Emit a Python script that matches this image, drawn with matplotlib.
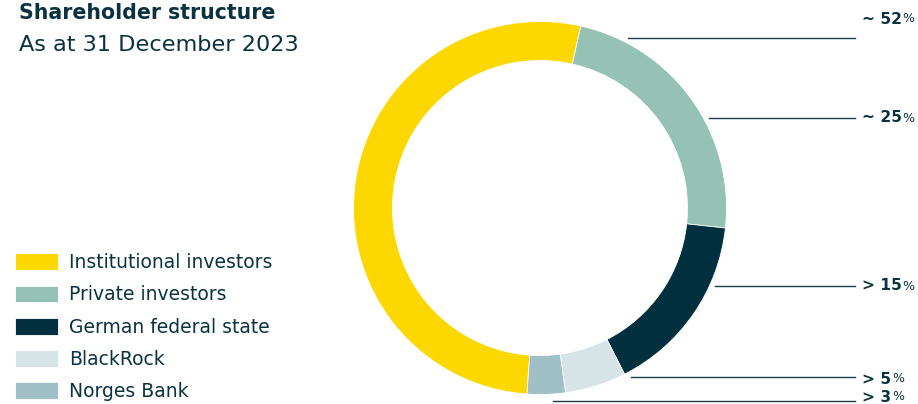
import matplotlib.pyplot as plt

plt.rcParams['font.family'] = ['DejaVu Sans']

categories = ["Institutional investors", "Private investors", "German federal state", "BlackRock", "Norges Bank"]
shares = [52.4, 23.2, 15.8, 5.3, 3.3]
colors = ["#FDD800", "#95C2B4", "#02303F", "#D6E4E8", "#A0BFC6"]

# labels on the right side, top to bottom
label_texts = ["~ 52", "~ 25", "> 15", "> 5", "> 3"]

text_color = "#0B3240"
W, H = 918, 404

fig = plt.figure(figsize=(9.18, 4.04), dpi=100)
ax = fig.add_axes([0, 0, 1, 1])

# ring, everything in pixel units (y counted from the bottom)
wedges, _ = ax.pie(shares, colors=colors, startangle=-94, counterclock=False,
                   radius=186.5, center=(540, H - 208),
                   wedgeprops=dict(width=39, linewidth=0.6, edgecolor="white"))
ax.set_xlim(0, W)
ax.set_ylim(0, H)
ax.axis("off")

# title
ax.text(19, H - 19, "Shareholder structure", fontsize=14.8, fontweight="bold",
        color=text_color, va="baseline")
ax.text(19, H - 51, "As at 31 December 2023", fontsize=16.1, color=text_color, va="baseline")

# leader lines and labels, the % sign is set smaller right after the number
label_y = [19, 118, 286, 379, 397]
line_y = [38, 118, 286, 377, 401]
line_x0 = [628, 709, 715, 631, 553]
for txt, ly, y, x0 in zip(label_texts, label_y, line_y, line_x0):
    ax.plot([x0, 855], [H - y, H - y], color="#1A3C48", lw=1)
    t = ax.text(862, H - ly, txt, ha="left", va="center", fontsize=11.2,
                fontweight="bold", color=text_color)
    ax.annotate("%", xy=(1, 0.5), xycoords=t, xytext=(0.5, 0), textcoords="offset points",
                ha="left", va="center", fontsize=9, color=text_color)

# legend bottom left
ax.legend(wedges, categories, loc="upper left", bbox_to_anchor=(15 / W, (H - 253) / H),
          frameon=False, fontsize=13.5, handlelength=2.29, handleheight=1.0,
          handletextpad=0.59, labelspacing=0.71, borderpad=0, borderaxespad=0,
          labelcolor=text_color)

fig.savefig("out.png", dpi=100)
